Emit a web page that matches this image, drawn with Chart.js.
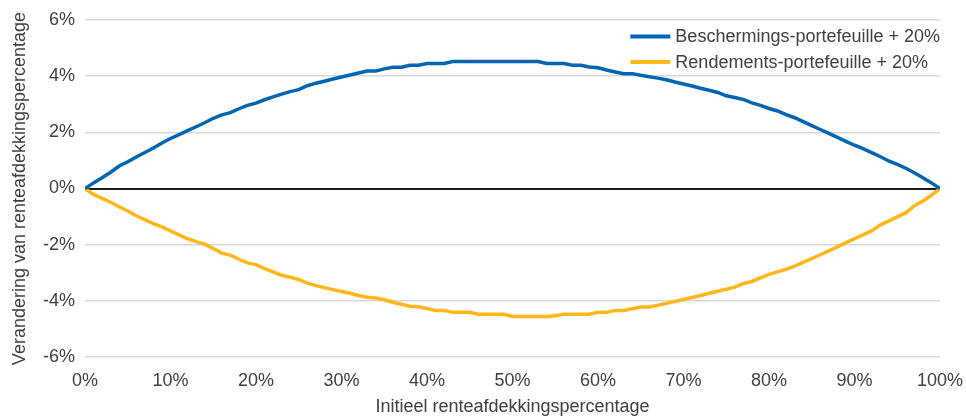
<!DOCTYPE html>
<html>
<head>
<meta charset="utf-8">
<script src="https://cdn.jsdelivr.net/npm/chart.js@4/dist/chart.umd.min.js"></script>
<style>
  html, body { margin: 0; padding: 0; background: #ffffff; }
  #wrap { width: 966px; height: 418px; }
</style>
</head>
<body>
<div id="wrap"><canvas id="chart" width="966" height="418"></canvas></div>
<script>
// Initial interest-rate hedge ratio (%)
const hedgeRatio = [
  0, 1, 2, 3, 4, 5, 6, 7, 8, 9,
  10, 11, 12, 13, 14, 15, 16, 17, 18, 19,
  20, 21, 22, 23, 24, 25, 26, 27, 28, 29,
  30, 31, 32, 33, 34, 35, 36, 37, 38, 39,
  40, 41, 42, 43, 44, 45, 46, 47, 48, 49,
  50, 51, 52, 53, 54, 55, 56, 57, 58, 59,
  60, 61, 62, 63, 64, 65, 66, 67, 68, 69,
  70, 71, 72, 73, 74, 75, 76, 77, 78, 79,
  80, 81, 82, 83, 84, 85, 86, 87, 88, 89,
  90, 91, 92, 93, 94, 95, 96, 97, 98, 99,
  100
];

// Change in hedge ratio (%) – protection portfolio + 20%
const protectionChange = [
  0.00, 0.20, 0.38, 0.58, 0.80, 0.95, 1.12, 1.28, 1.44, 1.62,
  1.78, 1.92, 2.06, 2.20, 2.34, 2.50, 2.62, 2.70, 2.84, 2.96,
  3.04, 3.16, 3.26, 3.36, 3.45, 3.52, 3.66, 3.75, 3.82, 3.90,
  3.97, 4.04, 4.11, 4.18, 4.18, 4.26, 4.32, 4.32, 4.39, 4.39,
  4.45, 4.45, 4.45, 4.52, 4.52, 4.52, 4.52, 4.52, 4.52, 4.52,
  4.52, 4.52, 4.52, 4.52, 4.45, 4.45, 4.45, 4.39, 4.39, 4.33,
  4.30, 4.22, 4.15, 4.09, 4.09, 4.03, 3.98, 3.93, 3.87, 3.79,
  3.72, 3.65, 3.57, 3.50, 3.42, 3.30, 3.24, 3.17, 3.05, 2.96,
  2.85, 2.76, 2.63, 2.52, 2.38, 2.24, 2.10, 1.96, 1.82, 1.68,
  1.54, 1.42, 1.28, 1.14, 0.98, 0.86, 0.72, 0.56, 0.38, 0.20,
  0.00
];

// Change in hedge ratio (%) – return portfolio + 20%
const returnChange = [
  0.00, -0.21, -0.35, -0.49, -0.65, -0.80, -0.97, -1.11, -1.25, -1.37,
  -1.51, -1.65, -1.79, -1.89, -1.98, -2.14, -2.30, -2.37, -2.52, -2.65,
  -2.71, -2.85, -2.97, -3.09, -3.16, -3.24, -3.37, -3.46, -3.53, -3.60,
  -3.67, -3.73, -3.81, -3.87, -3.90, -3.96, -4.05, -4.12, -4.19, -4.21,
  -4.27, -4.34, -4.34, -4.41, -4.41, -4.41, -4.48, -4.48, -4.48, -4.48,
  -4.56, -4.56, -4.56, -4.56, -4.56, -4.53, -4.48, -4.48, -4.48, -4.48,
  -4.41, -4.41, -4.34, -4.34, -4.28, -4.22, -4.22, -4.16, -4.09, -4.02,
  -3.95, -3.88, -3.81, -3.73, -3.66, -3.59, -3.51, -3.38, -3.31, -3.18,
  -3.06, -2.97, -2.88, -2.76, -2.63, -2.50, -2.36, -2.22, -2.08, -1.93,
  -1.79, -1.65, -1.51, -1.30, -1.16, -1.01, -0.87, -0.61, -0.45, -0.24,
  0.00
];

const seriesNames = ['Beschermings-portefeuille + 20%', 'Rendements-portefeuille + 20%'];
const xTitle = 'Initieel renteafdekkingspercentage';
const yTitle = 'Verandering van renteafdekkingspercentage';

const FONT_FAMILY = "'Liberation Sans', Arial, sans-serif";
const TEXT_COLOR = '#404040';
const BLUE = '#0066b3';
const ORANGE = '#ffb71b';

const toPoints = (xs, ys) => xs.map((x, i) => ({ x: x, y: ys[i] }));

// Legend drawn inside the top-right corner of the plot area
const cornerLegend = {
  id: 'cornerLegend',
  afterDatasetsDraw(chart) {
    const { ctx, chartArea } = chart;
    const sets = chart.data.datasets;
    ctx.save();
    ctx.font = '18px ' + FONT_FAMILY;
    const widest = Math.max(...sets.map(d => ctx.measureText(d.label).width));
    const textX = chartArea.right - widest;
    sets.forEach((d, i) => {
      const y = chartArea.top + 16.5 + i * 25.5;
      ctx.strokeStyle = d.borderColor;
      ctx.lineWidth = 4;
      ctx.lineCap = 'butt';
      ctx.beginPath();
      ctx.moveTo(textX - 45, y);
      ctx.lineTo(textX - 5, y);
      ctx.stroke();
      ctx.fillStyle = TEXT_COLOR;
      ctx.textAlign = 'left';
      ctx.textBaseline = 'middle';
      ctx.fillText(d.label, textX, y + 1);
    });
    ctx.restore();
  }
};

new Chart(document.getElementById('chart'), {
  type: 'line',
  data: {
    datasets: [
      {
        label: seriesNames[0],
        data: toPoints(hedgeRatio, protectionChange),
        borderColor: BLUE,
        backgroundColor: BLUE,
        borderWidth: 3.5,
        pointRadius: 0,
        tension: 0
      },
      {
        label: seriesNames[1],
        data: toPoints(hedgeRatio, returnChange),
        borderColor: ORANGE,
        backgroundColor: ORANGE,
        borderWidth: 3.5,
        pointRadius: 0,
        tension: 0
      }
    ]
  },
  options: {
    responsive: false,
    animation: false,
    devicePixelRatio: 1,
    layout: { padding: { top: 20, right: 26, left: 0, bottom: 0 } },
    plugins: {
      legend: { display: false },
      tooltip: { enabled: false }
    },
    scales: {
      x: {
        type: 'linear',
        min: 0,
        max: 100,
        afterFit(scale) {
          scale.height = 61;
          scale.paddingLeft = 0;
          scale.paddingRight = 0;
        },
        ticks: {
          stepSize: 10,
          padding: 13,
          color: TEXT_COLOR,
          font: { family: FONT_FAMILY, size: 18 },
          maxRotation: 0,
          callback: v => v + '%'
        },
        grid: { display: false, drawTicks: false },
        border: { display: false },
        title: {
          display: true,
          text: xTitle,
          color: TEXT_COLOR,
          font: { family: FONT_FAMILY, size: 18 },
          padding: { top: 0, bottom: 0 }
        }
      },
      y: {
        min: -6,
        max: 6,
        afterFit(scale) {
          scale.width = 85;
          scale.paddingTop = 0;
          scale.paddingBottom = 0;
        },
        ticks: {
          stepSize: 2,
          padding: 10,
          color: TEXT_COLOR,
          font: { family: FONT_FAMILY, size: 18 },
          callback: v => v + '%'
        },
        grid: {
          drawTicks: false,
          color: ctx => (ctx.tick && ctx.tick.value === 0) ? '#1a1a1a' : '#d9d9d9',
          lineWidth: ctx => (ctx.tick && ctx.tick.value === 0) ? 2 : 1.5
        },
        border: { display: false },
        title: {
          display: true,
          text: yTitle,
          color: TEXT_COLOR,
          font: { family: FONT_FAMILY, size: 18 },
          padding: { top: 9, bottom: 0 }
        }
      }
    }
  },
  plugins: [cornerLegend]
});
</script>
</body>
</html>
